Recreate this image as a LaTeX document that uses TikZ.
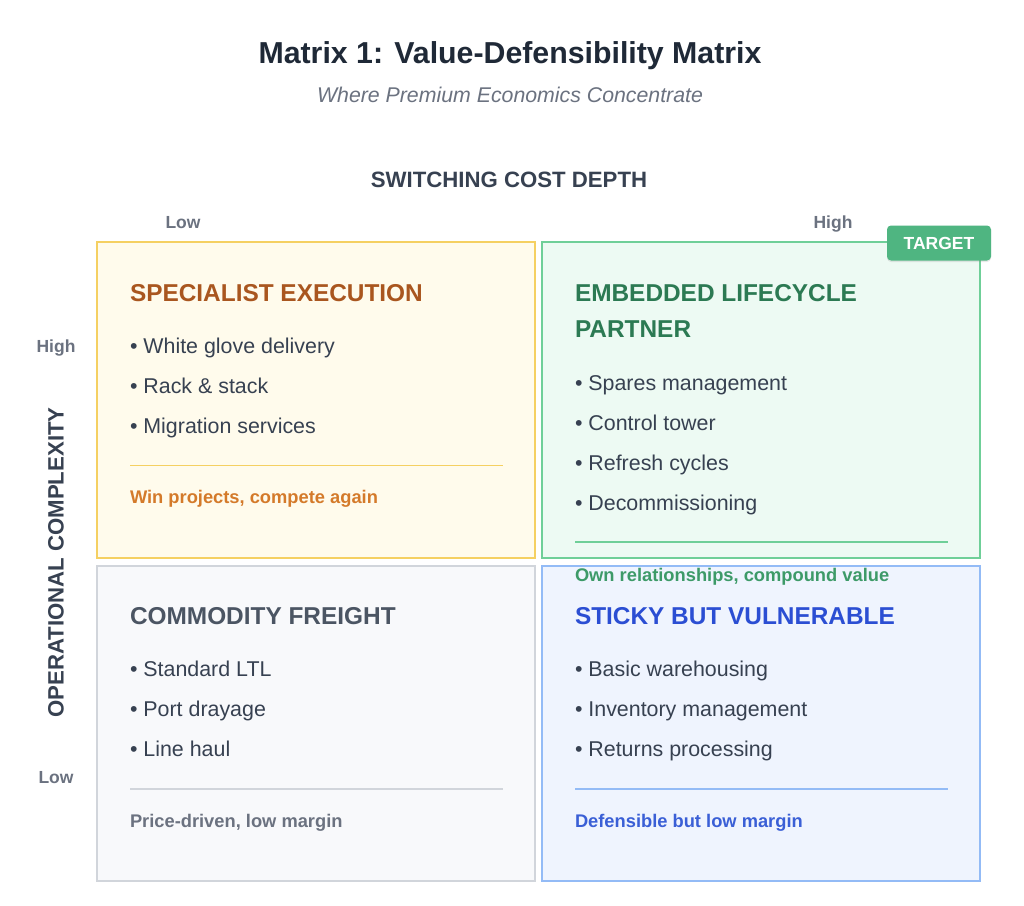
\documentclass[tikz,border=0pt]{standalone}
\usepackage{fontspec}
\setmainfont{Liberation Sans}
\usetikzlibrary{shadows}
\newcommand\myfs[1]{\fontsize{#1}{#1}\selectfont}
\definecolor{ink}{HTML}{1F2937}
\definecolor{sub}{HTML}{6B7280}
\definecolor{axis}{HTML}{374151}
\definecolor{body}{HTML}{374151}
\definecolor{ylfill}{HTML}{FFFBEC}
\definecolor{yldraw}{HTML}{F5D062}
\definecolor{yltitle}{HTML}{A9561F}
\definecolor{ylfoot}{HTML}{D47A2A}
\definecolor{grfill}{HTML}{EDFAF3}
\definecolor{grdraw}{HTML}{6FCF98}
\definecolor{grtitle}{HTML}{2C7A53}
\definecolor{grfoot}{HTML}{3D9A68}
\definecolor{badge}{HTML}{4FB581}
\definecolor{gyfill}{HTML}{F8F9FB}
\definecolor{gydraw}{HTML}{D1D5DB}
\definecolor{gytitle}{HTML}{4B5563}
\definecolor{gyfoot}{HTML}{6B7280}
\definecolor{blfill}{HTML}{EFF4FE}
\definecolor{bldraw}{HTML}{93BBF6}
\definecolor{bltitle}{HTML}{2B4ED3}
\definecolor{blfoot}{HTML}{3A5FD6}
\tikzset{
  quad/.style={draw, line width=2.5pt, minimum width=438pt, inner sep=0pt, outer sep=0pt},
  txt/.style={anchor=base west, inner sep=0pt, outer sep=0pt},
  qtitle/.style={txt, font=\myfs{24.4}\bfseries},
  item/.style={txt, font=\myfs{21.4}, text=body},
  foot/.style={txt, font=\myfs{18.3}\bfseries},
  lvl/.style={anchor=base, inner sep=0pt, font=\myfs{17.5}\bfseries, text=sub},
  sepline/.style={line width=1.1pt}
}
\begin{document}
\begin{tikzpicture}[x=1pt,y=-1pt]
\useasboundingbox[fill=white] (0,0) rectangle (1024,905);
% title
\node[anchor=base, inner sep=0pt, font=\myfs{30.3}\bfseries, text=ink] (title) at (510,63) {Matrix 1: Value-Defensibility Matrix};
\node[anchor=base, inner sep=0pt, font=\myfs{21.3}\itshape, text=sub] (subtitle) at (510,102) {Where Premium Economics Concentrate};
% axes
\node[anchor=base, inner sep=0pt, font=\myfs{22.2}\bfseries, text=axis] (xaxis) at (509,187) {SWITCHING COST DEPTH};
\node[lvl] (xlow) at (183,228) {Low};
\node[lvl] (xhigh) at (833,228) {High};
\node[lvl] (yhigh) at (56,352) {High};
\node[lvl] (ylow) at (56,783) {Low};
\node[anchor=base, inner sep=0pt, rotate=90, font=\myfs{22.2}\bfseries, text=axis] (yaxis) at (63.5,562.5) {OPERATIONAL COMPLEXITY};
% quadrants
\node[quad, fill=ylfill, draw=yldraw, minimum height=316pt] (tl) at (316,400) {};
\node[quad, fill=grfill, draw=grdraw, minimum height=316pt] (tr) at (761,400) {};
\node[quad, fill=gyfill, draw=gydraw, minimum height=315pt] (bl) at (316,723.5) {};
\node[quad, fill=blfill, draw=bldraw, minimum height=315pt] (br) at (761,723.5) {};
% badge
\node[fill=badge, rounded corners=4pt, minimum width=104pt, minimum height=35pt, inner sep=0pt,
      drop shadow={opacity=0.18, shadow xshift=0pt, shadow yshift=-1.5pt}] (badgebox) at (939,243) {};
\node[anchor=base, inner sep=0pt, font=\myfs{17.5}\bfseries, text=white] (badgetxt) at (939,249.5) {TARGET};
% top-left
\node[qtitle, text=yltitle] (tlt) at (130,301) {SPECIALIST EXECUTION};
\node[item] (tl1) at (130,353) {• White glove delivery};
\node[item] (tl2) at (130,393) {• Rack \& stack};
\node[item] (tl3) at (130,433) {• Migration services};
\coordinate (tls1) at (130,465.5);
\coordinate (tls2) at (503,465.5);
\draw[sepline, draw=yldraw] (tls1) -- (tls2);
\node[foot, text=ylfoot] (tlf) at (130,503) {Win projects, compete again};
% top-right
\node[qtitle, text=grtitle] (trt1) at (575,301) {EMBEDDED LIFECYCLE};
\node[qtitle, text=grtitle] (trt2) at (575,337.5) {PARTNER};
\node[item] (tr1) at (575,390) {• Spares management};
\node[item] (tr2) at (575,430) {• Control tower};
\node[item] (tr3) at (575,470) {• Refresh cycles};
\node[item] (tr4) at (575,510) {• Decommissioning};
\coordinate (trs1) at (575,542);
\coordinate (trs2) at (948,542);
\draw[sepline, draw=grdraw] (trs1) -- (trs2);
% bottom-left
\node[qtitle, text=gytitle] (blt) at (130,624.5) {COMMODITY FREIGHT};
\node[item] (bl1) at (130,676) {• Standard LTL};
\node[item] (bl2) at (130,716) {• Port drayage};
\node[item] (bl3) at (130,756) {• Line haul};
\coordinate (bls1) at (130,789);
\coordinate (bls2) at (503,789);
\draw[sepline, draw=gydraw] (bls1) -- (bls2);
\node[foot, text=gyfoot] (blf) at (130,827) {Price-driven, low margin};
% bottom-right
\node[qtitle, text=bltitle] (brt) at (575,624.5) {STICKY BUT VULNERABLE};
\node[item] (br1) at (575,676) {• Basic warehousing};
\node[item] (br2) at (575,716) {• Inventory management};
\node[item] (br3) at (575,756) {• Returns processing};
\coordinate (brs1) at (575,789);
\coordinate (brs2) at (948,789);
\draw[sepline, draw=bldraw] (brs1) -- (brs2);
\node[foot, text=blfoot] (brf) at (575,827) {Defensible but low margin};
% top-right footer overflowing
\node[foot, text=grfoot] (trf) at (575,581) {Own relationships, compound value};
\end{tikzpicture}
\end{document}
